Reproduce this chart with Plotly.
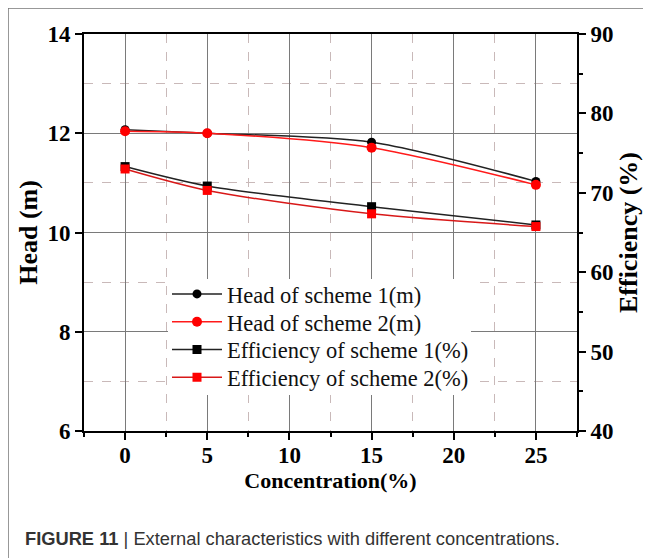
import plotly.graph_objects as go

concentration = [0, 5, 15, 25]
head_scheme1 = [12.07, 12.00, 11.82, 11.03]
head_scheme2 = [12.04, 12.00, 11.71, 10.96]
eff_scheme1 = [73.3, 70.85, 68.25, 65.95]
eff_scheme2 = [73.0, 70.3, 67.35, 65.75]

names = ["Head of scheme 1(m)", "Head of scheme 2(m)",
         "Efficiency of scheme 1(%)", "Efficiency of scheme 2(%)"]

SERIF = "Liberation Serif"

# page body has an 8px margin: work in reference pixels, shift by OFF
OFF = 8
W, H = 651 - OFF, 558 - OFF
PL, PR, PT, PB = 84, 577, 34, 431          # plot area in reference pixels
L, R, T, B = PL - OFF, W - (PR - OFF), PT - OFF, H - (PB - OFF)
pw, ph = W - L - R, H - T - B

def px(x):
    return (x - OFF - L) / pw

def py(y):
    return (H - B - (y - OFF)) / ph

spline = dict(width=1.5, shape="spline", smoothing=0.8)

fig = go.Figure()
fig.add_trace(go.Scatter(x=concentration, y=head_scheme1, name=names[0], legend="legend",
                         mode="lines+markers", line=dict(color="#222222", **spline),
                         marker=dict(symbol="circle", size=9, color="black")))
fig.add_trace(go.Scatter(x=concentration, y=head_scheme2, name=names[1], legend="legend2",
                         mode="lines+markers", line=dict(color="#ff1a1a", **spline),
                         marker=dict(symbol="circle", size=10, color="#ff0000")))
fig.add_trace(go.Scatter(x=concentration, y=eff_scheme1, name=names[2], yaxis="y2", legend="legend3",
                         mode="lines+markers", line=dict(color="#222222", **spline),
                         marker=dict(symbol="square", size=9, color="black")))
fig.add_trace(go.Scatter(x=concentration, y=eff_scheme2, name=names[3], yaxis="y2", legend="legend4",
                         mode="lines+markers", line=dict(color="#d81818", **spline),
                         marker=dict(symbol="square", size=9, color="#ff0000")))

tickfont = dict(family=SERIF, size=23, color="black", weight="bold")

def leg(yc):
    return dict(x=px(167), y=py(yc), xanchor="left", yanchor="middle",
                bgcolor="rgba(0,0,0,0)", borderwidth=0,
                font=dict(family=SERIF, size=22.5, color="#111111"),
                itemwidth=50)

row_centers = [294.3, 322.1, 349.9, 377.7]

fig.update_layout(
    width=W, height=H,
    margin=dict(l=L, r=R, t=T, b=B, autoexpand=False),
    paper_bgcolor="white", plot_bgcolor="white",
    font=dict(family=SERIF, color="black"),
    showlegend=True,
    legend=leg(row_centers[0]),
    legend2=leg(row_centers[1]),
    legend3=leg(row_centers[2]),
    legend4=leg(row_centers[3]),
    xaxis=dict(range=[-2.5, 27.5], dtick=5, tick0=0,
               showline=True, linecolor="black", linewidth=2, mirror=True,
               ticks="outside", ticklen=7, tickwidth=1.5, tickcolor="black",
               ticklabelstandoff=-5,
               showgrid=True, gridcolor="#7a7a7a", gridwidth=1,
               zeroline=False, tickfont=tickfont,
               minor=dict(dtick=2.5, tick0=0, showgrid=True, gridcolor="#c9b9b9",
                          griddash="dash", gridwidth=1, ticks="outside", ticklen=4,
                          tickcolor="black"),
               title=dict(text="Concentration(%)", standoff=0,
                          font=dict(family=SERIF, size=22, weight="bold"))),
    yaxis=dict(range=[6, 14], dtick=2, tick0=6,
               showline=True, linecolor="black", linewidth=2,
               ticks="outside", ticklen=7, tickwidth=1.5, tickcolor="black",
               showgrid=True, gridcolor="#7a7a7a", gridwidth=1,
               zeroline=False, tickfont=tickfont,
               minor=dict(dtick=1, tick0=6, showgrid=True, gridcolor="#c9b9b9",
                          griddash="dash", gridwidth=1),
               title=dict(text="Head (m)", standoff=2,
                          font=dict(family=SERIF, size=26, weight="bold"))),
    yaxis2=dict(range=[40, 90], dtick=10, tick0=40, overlaying="y", side="right",
                showline=True, linecolor="black", linewidth=2,
                ticks="outside", ticklen=7, tickwidth=1.5, tickcolor="black",
                showgrid=False, zeroline=False, tickfont=tickfont,
                minor=dict(dtick=5, tick0=40, ticks="outside", ticklen=4, tickcolor="black",
                           showgrid=False),
                title=dict(text="Efficiency (%)", standoff=4,
                           font=dict(family=SERIF, size=26, weight="bold"))),
    shapes=[
        dict(type="rect", xref="paper", yref="paper",
             x0=px(8), x1=px(700), y0=py(620), y1=py(8),
             line=dict(color="#777777", width=1.5), fillcolor="rgba(0,0,0,0)",
             layer="below"),
        dict(type="rect", xref="paper", yref="paper",
             x0=px(168), x1=px(471), y0=py(395), y1=py(279),
             line=dict(width=0), fillcolor="white", layer="above"),
    ],
    annotations=[dict(xref="paper", yref="paper", x=px(23), y=py(538),
                      xanchor="left", yanchor="middle", showarrow=False,
                      text="<b>FIGURE 11</b> | External characteristics with different concentrations.",
                      font=dict(family="Liberation Sans", size=18.3, color="#333333"))],
)

fig.write_html("out.html")
